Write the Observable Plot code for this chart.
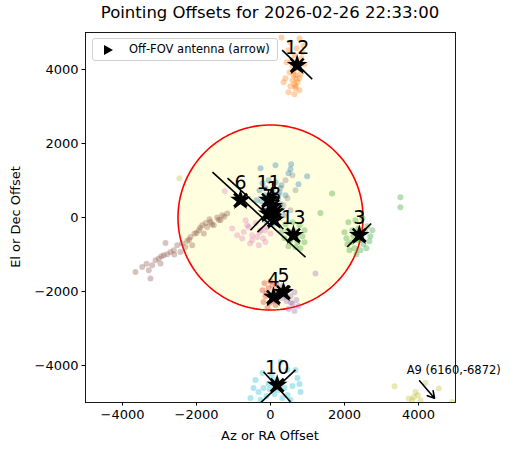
<!DOCTYPE html>
<html>
<head>
<meta charset="utf-8">
<script src="https://cdn.jsdelivr.net/npm/d3@7"></script>
<script src="https://cdn.jsdelivr.net/npm/@observablehq/plot@0.6"></script>
<style>
  body { margin: 0; background: white; font-family: "DejaVu Sans", sans-serif; }
  #wrap { position: relative; width: 515px; height: 455px; overflow: hidden; }
  #wrap svg { position: absolute; left: 0; top: 0; }
  .title { position: absolute; left: 85px; width: 370px; top: 3px; text-align: center; font-size: 16.5px; line-height: 20px; color: #000; }
  .xlab { position: absolute; left: 85px; width: 370px; top: 428px; text-align: center; font-size: 13px; line-height: 16px; }
  .ylab { position: absolute; left: 16px; top: 217px; font-size: 13px; line-height: 16px; transform: translate(-50%, -50%) rotate(-90deg); white-space: nowrap; }
  .legend { position: absolute; left: 92px; top: 38px; width: 184px; height: 21px; border: 1px solid #d0d0d0; border-radius: 3px; background: rgba(255,255,255,0.85); font-size: 11.5px; line-height: 21px; }
  .legend .tri { position: absolute; left: 11px; top: 6px; width: 0; height: 0; border-top: 5px solid transparent; border-bottom: 5px solid transparent; border-left: 9px solid #000; }
  .legend .txt { position: absolute; left: 36px; top: 0; white-space: nowrap; }
</style>
</head>
<body>
<div id="wrap">
  <div id="chart"></div>
  <div class="title">Pointing Offsets for 2026-02-26 22:33:00</div>
  <div class="xlab">Az or RA Offset</div>
  <div class="ylab">El or Dec Offset</div>
  <div class="legend"><span class="tri"></span><span class="txt">Off-FOV antenna (arrow)</span></div>
</div>
<script>
// ---- Data ----
const fovRadius = 2500;
const axisTicks = [-4000, -2000, 0, 2000, 4000];
const tab10 = ["#1f77b4","#ff7f0e","#2ca02c","#d62728","#9467bd","#8c564b","#e377c2","#7f7f7f","#bcbd22","#17becf"];

// scatter points per antenna
const ant12X = [297,540,783,891,486,648,837,432,594,756,918,513,675,810,405,594,729,540,675,486,648,783,351,864,702,567,783,621,650,700,620,680];
const ant12Y = [4868,4733,4841,4652,4517,4382,4301,4193,4085,4031,4139,3923,3842,3869,3761,3707,3653,3545,3491,3383,3329,3437,3653,4463,4571,4247,3761,3950,3600,3750,3850,3550];

const ant10X = [270,-216,459,729,-405,-54,162,378,594,810,-324,-108,108,324,540,-459,675,27,-189,459,783,-540,216,-270,100,300,-20];
const ant10Y = [-3907,-4204,-4123,-4339,-4393,-4501,-4393,-4609,-4555,-4717,-4717,-4825,-4771,-4879,-4933,-4609,-4123,-4285,-4609,-4798,-4501,-4879,-4663,-4933,-4550,-4450,-4650];

const ant3X = [2106,2295,2484,2619,2214,2376,2565,2700,2052,2187,2349,2511,2673,2268,2430,2592,2133,2322,2754,1998,2457,2241,3510,3510,2079,2400,2350,2450];
const ant3Y = [-127,-73,-19,-235,-343,-289,-397,-505,-559,-667,-613,-721,-640,-829,-883,-829,-883,-991,-343,-397,-505,-505,548,278,-721,-450,-550,-600];

const ant13X = [405,594,783,918,459,675,864,378,540,729,918,486,675,297,810,1666,1350,594,650,560,700];
const ant13Y = [-181,-127,-208,-343,-343,-370,-505,-559,-613,-667,-667,-775,-802,-397,-829,648,124,-505,-450,-400,-550];

const ant4X = [-162,0,162,-216,-54,108,-135,27,189,-189,-27,135,-81,54,-100,80];
const ant4Y = [-1774,-1720,-1801,-1963,-1909,-1963,-2125,-2125,-2152,-2287,-2314,-2368,-2449,-1828,-2050,-2250];

const ant5X = [324,486,648,378,540,702,432,594,756,486,648,297,1215,550,420];
const ant5Y = [-1855,-1936,-2017,-2071,-2125,-2233,-2260,-2341,-2395,-2476,-2530,-2179,-1512,-2300,-2150];

const ant6X = [-1170,-1306,-1441,-1622,-1711,-1846,-1938,-2054,-2162,-2252,-2387,-2522,-2614,-2703,-2792,-2884,-3019,-3108,-3198,-3290,-2838,-3468,-3649,-3244,-2433,-1803,-1533,-1352,-2973,-2116,-1250,-1400,-1580,-1750,-1900,-2000,-2300,-2600,-2950,-3350,-1650,-2200];
const ant6Y = [108,62,0,-119,-254,-208,-343,-432,-524,-632,-703,-749,-884,-930,-992,-1019,-1108,-1154,-1289,-1424,-687,-1335,-1470,-1649,-930,-432,-208,-73,-1243,-749,20,-60,-180,-150,-280,-420,-800,-1000,-1050,-1250,-50,-600];

const ant7X = [-676,-587,-722,-495,-360,-270,-495,-316,-135,0,-765,-900,-630,-89,-1235,-1035,-400,-200,-550,-300,-150];
const ant7Y = [-73,-254,-389,-478,-524,-343,-614,-749,-660,-432,-568,-478,-208,-254,719,-297,-150,-560,-700,-400,-350];

const ant8X = [270,459,675,594,351,216,540,405];
const ant8Y = [795,522,738,1143,332,603,197,1008];

const ant11X = [-216,-54,135,297,-297,-135,54,243,405,-243,-81,108,270,-189,0,189,351,-108,81,-270,135,559,540,486,991,756,-378,-150,50,200,-50,100];
const ant11Y = [927,1008,954,873,738,792,738,684,603,441,468,414,360,197,170,116,62,-116,-170,1332,1413,1441,1305,1197,1116,900,468,600,550,500,300,250];

const ant9X = [3352,3919,3982,3874,3738,4190,4549,4055,4911,3830,-2460];
const ant9Y = [-4560,-4714,-4803,-4849,-4893,-4471,-4622,-4938,-4984,-4938,1063];

// fitted offsets (marker + label) per antenna
const markerAnt = [12, 10, 3, 13, 4, 5, 6, 11, 1, 2, 7, 8];
const markerX   = [720, 180, 2400, 620, 81, 351, -811, -54, 54, 100, -60, 120];
const markerY   = [4115, -4530, -480, -480, -2154, -2025, 468, 468, 300, -73, 100, 150];

// direction segments
const segX1 = [-1568, -1162, -541, -351, 316, 2073, -189, 676, -90];
const segY1 = [1225, 1062, -343, -397, 4522, -795, -4171, -4117, -2371];
const segX2 = [946, 351, -81, 324, 1127, 2722, 540, -270, 487];
const segY2 = [-1073, -316, 143, 251, 3738, -162, -4982, -5009, -1830];

// off-FOV antenna annotation
const offAnt = "A9";
const offTrueX = 6160, offTrueY = -6872;
const offArrow = {x1: 4028, y1: -4414, x2: 4433, y2: -4884};
const offLabelPos = {x: 4952, y: -4127};

// ---- Build tables ----
const groups = [
  [12, ant12X, ant12Y], [10, ant10X, ant10Y], [3, ant3X, ant3Y], [13, ant13X, ant13Y],
  [4, ant4X, ant4Y], [5, ant5X, ant5Y], [6, ant6X, ant6Y], [7, ant7X, ant7Y],
  [8, ant8X, ant8Y], [11, ant11X, ant11Y], [9, ant9X, ant9Y]
];
const pts = [];
for (const [a, xs, ys] of groups) xs.forEach((x, i) => pts.push({ant: a, x, y: ys[i], c: tab10[(a - 1) % 10]}));

const markers = markerAnt.map((a, i) => ({ant: a, x: markerX[i], y: markerY[i], label: String(a)}));
const segs = segX1.map((x1, i) => ({x1, y1: segY1[i], x2: segX2[i], y2: segY2[i]}));
const circle = d3.range(0, 361, 2).map(t => ({x: fovRadius * Math.cos(t * Math.PI / 180), y: fovRadius * Math.sin(t * Math.PI / 180)}));

const fmt = d => d < 0 ? "\u2212" + Math.abs(d) : String(d);

const chart = Plot.plot({
  width: 515,
  height: 455,
  marginLeft: 85,
  marginRight: 60,
  marginTop: 32,
  marginBottom: 53,
  style: {fontFamily: "DejaVu Sans", fontSize: "13px", color: "black", background: "transparent", overflow: "visible"},
  x: {domain: [-5000, 5000], ticks: axisTicks, tickFormat: fmt, label: null},
  y: {domain: [-5000, 5000], ticks: axisTicks, tickFormat: fmt, label: null},
  marks: [
    Plot.line(circle, {x: "x", y: "y", fill: "#ffffdf", stroke: "red", strokeWidth: 1.6}),
    Plot.dot(pts, {x: "x", y: "y", r: 3, fill: "c", fillOpacity: 0.35, stroke: null, clip: true}),
    Plot.link(segs, {x1: "x1", y1: "y1", x2: "x2", y2: "y2", stroke: "black", strokeWidth: 1.6, clip: true}),
    Plot.dot(markers, {x: "x", y: "y", symbol: "star", r: 6.5, fill: "black", stroke: null}),
    Plot.dot(markers, {x: "x", y: "y", symbol: "times", r: 6, stroke: "black", strokeWidth: 2.5}),
    Plot.text(markers, {x: "x", y: "y", text: "label", dy: -17, fontSize: 19, fill: "black"}),
    Plot.arrow([offArrow], {x1: "x1", y1: "y1", x2: "x2", y2: "y2", stroke: "black", strokeWidth: 1.6, headLength: 8, bend: 0}),
    Plot.text([offLabelPos], {x: "x", y: "y", text: () => `${offAnt} (${offTrueX},${offTrueY})`, fontSize: 11.5, fill: "black"}),
    Plot.frame({stroke: "black", strokeWidth: 0.9}),
    Plot.axisX({ticks: axisTicks, tickFormat: fmt, tickSize: 3.5, tickPadding: 3.5, fontSize: 13, label: null, stroke: "black"}),
    Plot.axisY({ticks: axisTicks, tickFormat: fmt, tickSize: 3.5, tickPadding: 3.5, fontSize: 13, label: null, stroke: "black"})
  ]
});
document.getElementById("chart").appendChild(chart);
</script>
</body>
</html>
